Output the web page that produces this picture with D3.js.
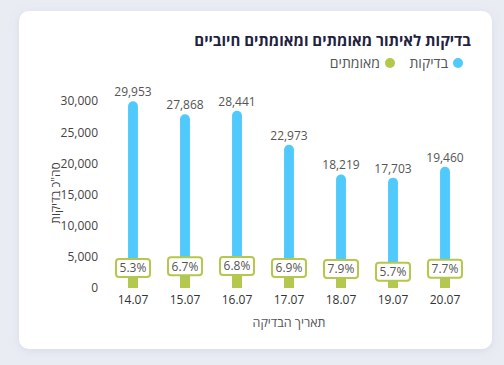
<!DOCTYPE html>
<html lang="he">
<head>
<meta charset="utf-8">
<script src="https://cdn.jsdelivr.net/npm/d3@7/dist/d3.min.js"></script>
<style>
  html, body { margin: 0; padding: 0; background: #e9ecf3; }
  svg { display: block; }
  text { font-family: "Open Sans", "Noto Sans", sans-serif; }
</style>
</head>
<body>
<svg id="chart" width="504" height="365"></svg>
<script>
const dates = ["14.07", "15.07", "16.07", "17.07", "18.07", "19.07", "20.07"];
const tests = [29953, 27868, 28441, 22973, 18219, 17703, 19460];
const positives = [1587, 1867, 1934, 1585, 1439, 1009, 1498];
const pctLabels = ["5.3%", "6.7%", "6.8%", "6.9%", "7.9%", "5.7%", "7.7%"];
const yTicks = [0, 5000, 10000, 15000, 20000, 25000, 30000];
const titleText = "בדיקות לאיתור מאומתים ומאומתים חיוביים";
const seriesNames = ["בדיקות", "מאומתים"];
const yTitle = "סה\"כ בדיקות";
const xTitle = "תאריך הבדיקה";

const blue = "#50cafd", green = "#b5c84b";
const FONT = "\"Open Sans\", \"Noto Sans\", sans-serif";
const svg = d3.select("#chart");

const defs = svg.append("defs");
const f = defs.append("filter").attr("id", "sh").attr("x", "-10%").attr("y", "-10%").attr("width", "120%").attr("height", "120%");
f.append("feDropShadow").attr("dx", 0).attr("dy", 2).attr("stdDeviation", 5).attr("flood-color", "#8a93b5").attr("flood-opacity", 0.18);

svg.append("rect").attr("x", 19).attr("y", 11).attr("width", 473).attr("height", 338)
  .attr("rx", 10).attr("fill", "#fff").attr("filter", "url(#sh)");

// Title
svg.append("text").attr("x", 471).attr("y", 46).attr("text-anchor", "end")
  .attr("font-size", 15).attr("font-weight", 700).attr("fill", "#1f2240").text(titleText);

// Legend
const legend = [{name: seriesNames[0], color: blue, cx: 458, tx: 448}, {name: seriesNames[1], color: green, cx: 390, tx: 380}];
legend.forEach(l => {
  svg.append("circle").attr("cx", l.cx).attr("cy", 63).attr("r", 5).attr("fill", l.color);
  svg.append("text").attr("x", l.tx).attr("y", 68).attr("text-anchor", "end")
    .attr("font-size", 14).attr("fill", "#555").text(l.name);
});

const x = d3.scaleBand().domain(dates).range([107, 471]).paddingInner(0.81).paddingOuter(0.405);
const y = d3.scaleLinear().domain([0, 30000]).range([288, 101]);

// Y axis
const yAxis = svg.append("g").attr("transform", "translate(104,0)")
  .call(d3.axisLeft(y).tickValues(yTicks).tickFormat(d3.format(",")).tickSize(0).tickPadding(6));
yAxis.select(".domain").remove();
yAxis.selectAll("text").attr("font-size", 12).attr("fill", "#444").attr("font-family", FONT);

// X axis
const xAxis = svg.append("g").attr("transform", "translate(0,288)")
  .call(d3.axisBottom(x).tickSize(0).tickPadding(7));
xAxis.select(".domain").remove();
xAxis.selectAll("text").attr("font-size", 12).attr("fill", "#333").attr("font-family", FONT);

// Axis titles
svg.append("text").attr("transform", "translate(60,193) rotate(-90)").attr("text-anchor", "middle")
  .attr("font-size", 12).attr("fill", "#444").text(yTitle);
svg.append("text").attr("x", 289).attr("y", 327).attr("text-anchor", "middle")
  .attr("font-size", 12.5).attr("fill", "#555").text(xTitle);

const bw = x.bandwidth();
const r = bw / 2;
// Blue bars (rounded top)
svg.append("g").selectAll("path").data(dates).join("path")
  .attr("fill", blue)
  .attr("d", (d, i) => {
    const x0 = x(d), top = y(tests[i]), y0 = y(0);
    return `M${x0},${y0}V${top + r}A${r},${r} 0 0 1 ${x0 + bw},${top + r}V${y0}Z`;
  });

// Value labels
svg.append("g").selectAll("text").data(dates).join("text")
  .attr("x", d => x(d) + bw / 2).attr("y", (d, i) => y(tests[i]) - 5)
  .attr("text-anchor", "middle").attr("font-size", 12).attr("fill", "#555")
  .text((d, i) => d3.format(",")(tests[i]));

// Green bars
svg.append("g").selectAll("rect").data(dates).join("rect")
  .attr("fill", green)
  .attr("x", d => x(d)).attr("width", bw)
  .attr("y", (d, i) => y(positives[i])).attr("height", (d, i) => y(0) - y(positives[i]));

// Percentage label boxes
const lg = svg.append("g").selectAll("g").data(dates).join("g")
  .attr("transform", (d, i) => `translate(${x(d) + bw / 2},${y(positives[i]) - 10})`);
lg.append("rect").attr("x", -17).attr("y", -9).attr("width", 34).attr("height", 18).attr("rx", 3)
  .attr("fill", "#fff").attr("stroke", green).attr("stroke-width", 2);
lg.append("text").attr("y", 4.3).attr("text-anchor", "middle").attr("font-size", 12).attr("fill", "#555")
  .text((d, i) => pctLabels[i]);
</script>
</body>
</html>
